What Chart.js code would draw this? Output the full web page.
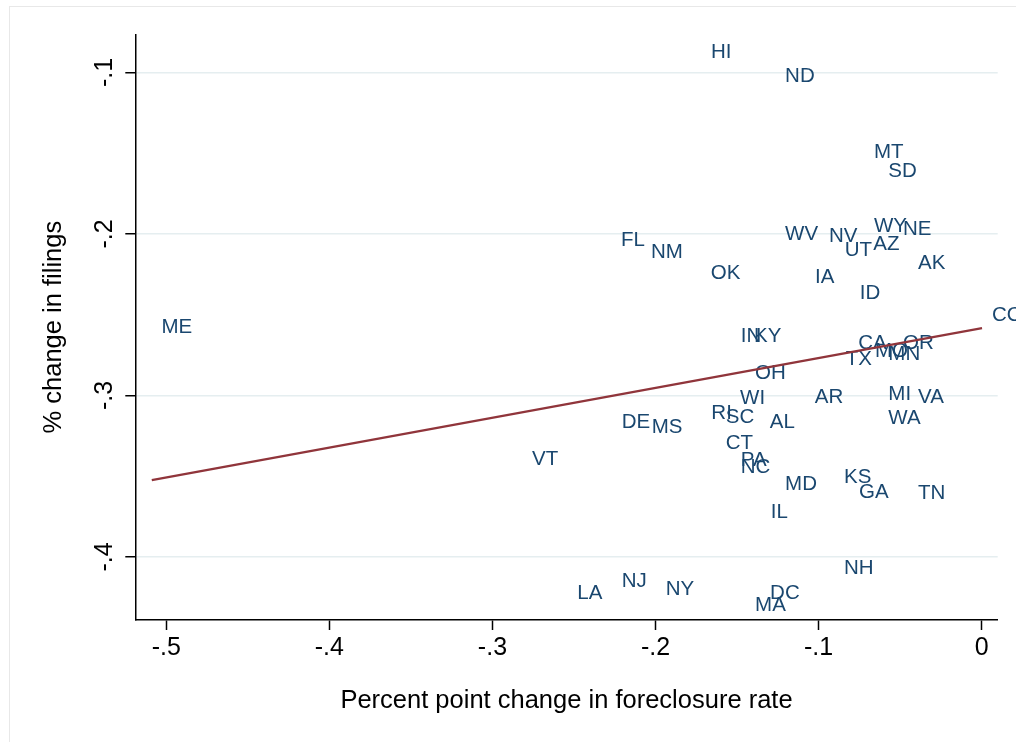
<!DOCTYPE html>
<html>
<head>
<meta charset="utf-8">
<script src="https://cdn.jsdelivr.net/npm/chart.js@4.4.1/dist/chart.umd.min.js"></script>
<style>
  body { margin: 0; background: #fff; }
  canvas { display: block; }
</style>
</head>
<body>
<canvas id="myChart" width="1016" height="742"></canvas>
<script>
// state labels with x = pp change in foreclosure rate, y = % change in filings
const states = ['HI', 'ND', 'MT', 'SD', 'WY', 'NE', 'WV', 'NV', 'UT', 'AZ', 'AK', 'OK', 'IA', 'ID', 'FL', 'NM', 'ME', 'CO',
    'IN', 'KY', 'CA', 'MO', 'OR', 'MN', 'TX', 'OH', 'WI', 'AR', 'MI', 'VA', 'RI', 'SC', 'AL', 'WA', 'CT', 'DE', 'MS',
    'PA', 'NC', 'MD', 'KS', 'GA', 'IL', 'TN', 'VT', 'NH', 'LA', 'NJ', 'NY', 'DC', 'MA'];
const xVals = [-0.1721, -0.1267, -0.0722, -0.0634, -0.0722, -0.0544, -0.1267, -0.0998, -0.0901, -0.0726, -0.0452, -0.1723,
    -0.1083, -0.0809, -0.2273, -0.2089, -0.5091, 0.0002,
    -0.1539, -0.1457, -0.0818, -0.0716, -0.0544, -0.0634, -0.0895, -0.1451, -0.1543, -0.1085, -0.0634, -0.0452,
    -0.1719, -0.1631, -0.1361, -0.0634, -0.1631, -0.2269, -0.2085,
    -0.1539, -0.1539, -0.1267, -0.0906, -0.0814, -0.1355, -0.0452, -0.2819, -0.0906, -0.2541, -0.2269, -0.1999,
    -0.1359, -0.1451];
const yVals = [-0.0873, -0.1022, -0.1492, -0.1611, -0.1950, -0.1971, -0.2004, -0.2014, -0.2101, -0.2066, -0.2184, -0.2246,
    -0.2267, -0.2370, -0.2039, -0.2113, -0.2577, -0.2502,
    -0.2632, -0.2632, -0.2679, -0.2725, -0.2676, -0.2748, -0.2777, -0.2865, -0.3020, -0.3011, -0.2994, -0.3014,
    -0.3113, -0.3138, -0.3166, -0.3144, -0.3299, -0.3166, -0.3200,
    -0.3399, -0.3448, -0.3552, -0.3507, -0.3600, -0.3724, -0.3608, -0.3397, -0.4068, -0.4226, -0.4153, -0.4198,
    -0.4223, -0.4302];

// linear fit end points
const fitX = [-0.5089, 0.0002];
const fitY = [-0.3524, -0.2583];

const xTickVals = [-0.5, -0.4, -0.3, -0.2, -0.1, 0];
const xTickLabels = ['-.5', '-.4', '-.3', '-.2', '-.1', '0'];
const yTickVals = [-0.4, -0.3, -0.2, -0.1];
const yTickLabels = ['-.4', '-.3', '-.2', '-.1'];

const FONT = '"Liberation Sans", Arial, Helvetica, sans-serif';

// gray frame around the whole graph
const framePlugin = {
    id: 'frame',
    beforeDraw(chart) {
        const c = chart.ctx;
        c.save();
        c.strokeStyle = '#e8e8e8';
        c.lineWidth = 1;
        c.strokeRect(9.5, 6.5, 1100, 800);
        c.restore();
    }
};

// state names drawn in place of markers (under the fit line)
const labelPlugin = {
    id: 'stateLabels',
    beforeDatasetsDraw(chart) {
        const meta = chart.getDatasetMeta(1);
        const c = chart.ctx;
        c.save();
        c.font = '20.5px ' + FONT;
        c.fillStyle = '#1a476f';
        c.textAlign = 'left';
        c.textBaseline = 'middle';
        meta.data.forEach((pt, i) => {
            c.fillText(states[i], pt.x + 10, pt.y);
        });
        c.restore();
    }
};

const ctx = document.getElementById('myChart').getContext('2d');
const myChart = new Chart(ctx, {
    type: 'scatter',
    data: {
        datasets: [{
            type: 'line',
            label: 'Fitted values',
            data: fitX.map((x, i) => ({ x: x, y: fitY[i] })),
            borderColor: '#90353b',
            borderWidth: 2.3,
            pointRadius: 0,
            fill: false
        }, {
            label: 'states',
            data: xVals.map((x, i) => ({ x: x, y: yVals[i] })),
            pointRadius: 0
        }]
    },
    options: {
        responsive: false,
        animation: false,
        devicePixelRatio: 1,
        layout: { padding: { top: 34.3, right: 18.3, left: 0, bottom: 0 } },
        plugins: { legend: { display: false }, tooltip: { enabled: false } },
        scales: {
            x: {
                type: 'linear',
                min: -0.519,
                max: 0.0098,
                afterBuildTicks: (s) => { s.ticks = xTickVals.map(v => ({ value: v })); },
                afterFit: (s) => { s.height = 122; },
                border: { color: '#000', width: 1.5 },
                grid: { drawOnChartArea: false, color: '#000', tickColor: '#000', tickLength: 10, tickWidth: 1.5 },
                ticks: {
                    color: '#000',
                    padding: 3,
                    font: { family: FONT, size: 25 },
                    callback: (v, i) => xTickLabels[i]
                },
                title: {
                    display: true,
                    text: 'Percent point change in foreclosure rate',
                    color: '#000',
                    font: { family: FONT, size: 25.5 },
                    padding: { top: 0, bottom: 25.7 }
                }
            },
            y: {
                type: 'linear',
                min: -0.439,
                max: -0.0764,
                afterBuildTicks: (s) => { s.ticks = yTickVals.map(v => ({ value: v })); },
                afterFit: (s) => { s.width = 135.3; },
                border: { color: '#000', width: 1.5 },
                grid: { color: '#e5eef0', lineWidth: 1.5, tickColor: '#000', tickLength: 10, tickWidth: 1.5 },
                ticks: {
                    color: '#000',
                    padding: 5.7,
                    minRotation: 90,
                    maxRotation: 90,
                    crossAlign: 'center',
                    font: { family: FONT, size: 25 },
                    callback: (v, i) => yTickLabels[i]
                },
                title: {
                    display: true,
                    text: '% change in filings',
                    color: '#000',
                    font: { family: FONT, size: 25.5 },
                    padding: { top: 38.5, bottom: 0 }
                }
            }
        }
    },
    plugins: [framePlugin, labelPlugin]
});
</script>
</body>
</html>
